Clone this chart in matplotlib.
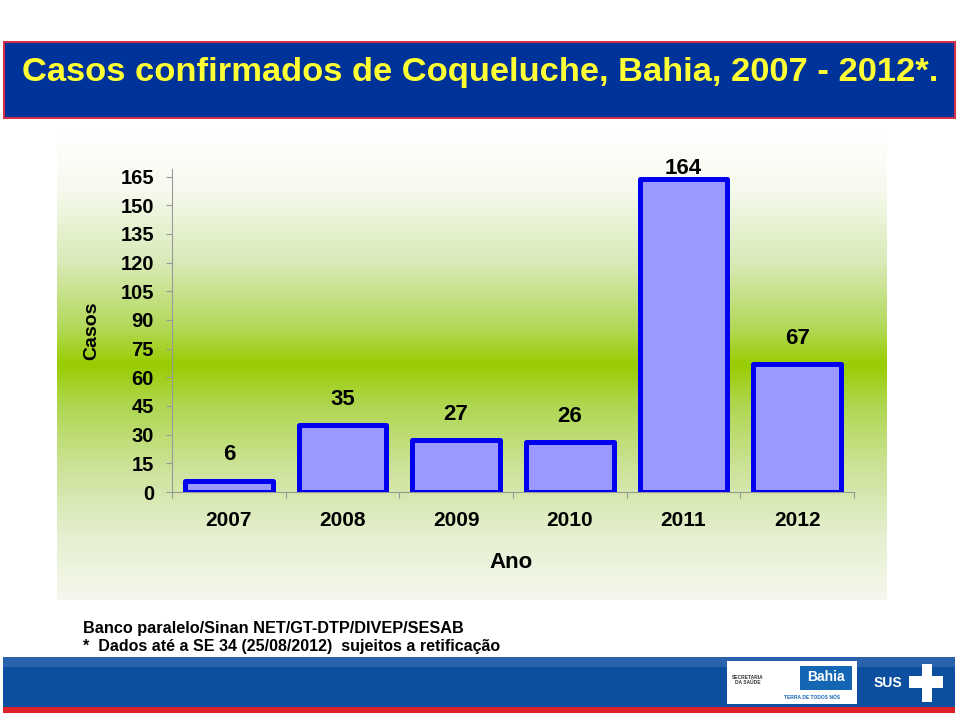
import matplotlib.pyplot as plt
import numpy as np
from matplotlib.patches import Rectangle
from matplotlib.colors import LinearSegmentedColormap

# Data
anos = ["2007", "2008", "2009", "2010", "2011", "2012"]
casos = [6, 35, 27, 26, 164, 67]
yticks = list(range(0, 166, 15))

W, H = 960, 716
fig = plt.figure(figsize=(W / 100, H / 100), dpi=100)
fig.patch.set_facecolor("white")

arial = ["Liberation Sans", "DejaVu Sans"]

# background layer in pixel coords
bg = fig.add_axes([0, 0, 1, 1], zorder=0)
bg.set_xlim(0, W)
bg.set_ylim(H, 0)
bg.axis("off")

# green gradient behind the chart
stops = [(0.00, (1.00, 1.00, 1.00)),
         (0.12, (0.97, 0.98, 0.94)),
         (0.28, (0.85, 0.92, 0.72)),
         (0.42, (0.70, 0.85, 0.35)),
         (0.50, (0.60, 0.80, 0.00)),
         (0.58, (0.68, 0.84, 0.30)),
         (0.72, (0.80, 0.89, 0.60)),
         (0.87, (0.90, 0.94, 0.82)),
         (1.00, (0.96, 0.97, 0.93))]
cmap = LinearSegmentedColormap.from_list("grad", stops)
grad = np.linspace(0, 1, 256).reshape(-1, 1)
bg.imshow(grad, cmap=cmap, aspect="auto", extent=[57, 887, 600, 130],
          interpolation="bicubic")

# title banner
bg.add_patch(Rectangle((4, 42), 951, 76, facecolor="#003399",
                       edgecolor="#d0304a", linewidth=1.5))
bg.text(22, 72, "Casos confirmados de Coqueluche, Bahia, 2007 - 2012*.",
        family=arial, fontweight="bold", fontsize=24.8, color="#ffff33",
        ha="left", va="center")

# bottom banner
bg.add_patch(Rectangle((3, 657), 952, 50, facecolor="#0d4f9f", edgecolor="none"))
bg.add_patch(Rectangle((3, 657), 952, 10, facecolor="#2a62ad", edgecolor="none"))
bg.add_patch(Rectangle((3, 707), 952, 6, facecolor="#e2202a", edgecolor="none"))
bg.add_patch(Rectangle((727, 661), 130, 43, facecolor="white", edgecolor="none"))
bg.text(748, 680, "SECRETARIA\nDA SAÚDE", fontsize=3.5, ha="center", va="center",
        color="#333333", family=arial, fontweight="bold")
bg.add_patch(Rectangle((800, 666), 52, 24, facecolor="#1565b5", edgecolor="none"))
bg.text(826, 677, "Bahia", fontsize=10, ha="center", va="center", color="white",
        family=arial, fontweight="bold")
bg.text(812, 697, "TERRA DE TODOS NÓS", fontsize=3.5, ha="center", va="center",
        color="#1565b5", family=arial, fontweight="bold")
bg.text(888, 683, "SUS", fontsize=10, ha="center", va="center", color="white",
        family=arial, fontweight="bold")
bg.add_patch(Rectangle((922, 664), 10, 38, facecolor="white", edgecolor="none"))
bg.add_patch(Rectangle((909, 676), 34, 12, facecolor="white", edgecolor="none"))

# footer notes
bg.text(83, 628, "Banco paralelo/Sinan NET/GT-DTP/DIVEP/SESAB", family=arial,
        fontweight="bold", fontsize=11.7, ha="left", va="center", color="black")
bg.text(83, 647, "*  Dados até a SE 34 (25/08/2012)  sujeitos a retificação",
        family=arial, fontweight="bold", fontsize=11.5, ha="left", va="center",
        color="black")

# main chart
left, right, bottom, top = 172, 854, 492, 169
ax = fig.add_axes([left / W, 1 - bottom / H, (right - left) / W, (bottom - top) / H],
                  zorder=1)
ax.patch.set_alpha(0)

x = np.arange(len(anos))
ax.bar(x, casos, width=0.77, color="#9999ff", edgecolor="#0000ee",
       linewidth=3.6, joinstyle="round", zorder=3)

ax.set_xlim(-0.5, len(anos) - 0.5)
ax.set_ylim(0, 169)

for xi, v in zip(x, casos):
    ax.text(xi, min(v + 13.5, 169), str(v), ha="center", va="center",
            family=arial, fontweight="bold", fontsize=16, color="black",
            clip_on=False)

ax.set_yticks(yticks)
ax.set_yticklabels([str(t) for t in yticks], family=arial, fontweight="bold",
                   fontsize=14.5)
ax.set_xticks(x)
ax.set_xticklabels(anos, family=arial, fontweight="bold", fontsize=15)
ax.set_xticks(np.arange(-0.5, len(anos)), minor=True)
ax.tick_params(axis="x", which="major", length=0, pad=14)
ax.tick_params(axis="x", which="minor", length=4, color="#999999", width=0.8)
ax.tick_params(axis="y", length=4, color="#999999", width=0.8, pad=9)

for s in ["top", "right"]:
    ax.spines[s].set_visible(False)
for s in ["left", "bottom"]:
    ax.spines[s].set_color("#999999")
    ax.spines[s].set_linewidth(0.8)

bg.text(92, 331, "Casos", rotation=90, family=arial, fontweight="bold",
        fontsize=14, ha="center", va="center", zorder=5)
bg.text(511, 563, "Ano", family=arial, fontweight="bold", fontsize=16,
        ha="center", va="center", zorder=5)

fig.savefig("out.png", dpi=100)
